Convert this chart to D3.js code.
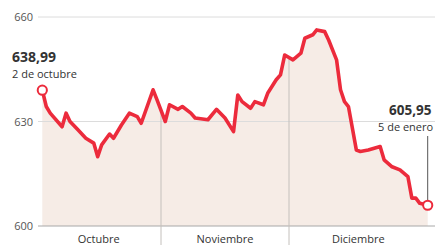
<!DOCTYPE html>
<html><head><meta charset="utf-8">
<script src="https://cdn.jsdelivr.net/npm/d3@7"></script>
<style>body{margin:0;background:#fff;overflow:hidden}svg{display:block}text{font-family:"Open Sans",sans-serif}</style>
</head><body>
<script>
const dates = ["2023-10-02","2023-10-03","2023-10-04","2023-10-07","2023-10-08","2023-10-09","2023-10-11","2023-10-13","2023-10-15","2023-10-16",
"2023-10-17","2023-10-19","2023-10-20","2023-10-22","2023-10-24","2023-10-26","2023-10-27","2023-10-30","2023-10-31","2023-11-02",
"2023-11-03","2023-11-05","2023-11-06","2023-11-08","2023-11-09","2023-11-12","2023-11-14","2023-11-16","2023-11-18","2023-11-19",
"2023-11-20","2023-11-22","2023-11-23","2023-11-25","2023-11-26","2023-11-28","2023-11-29","2023-11-30","2023-12-02","2023-12-04",
"2023-12-05","2023-12-07","2023-12-08","2023-12-10","2023-12-11","2023-12-13","2023-12-14","2023-12-15","2023-12-16","2023-12-18",
"2023-12-19","2023-12-21","2023-12-24","2023-12-25","2023-12-27","2023-12-29","2023-12-31","2024-01-01","2024-01-02","2024-01-03",
"2024-01-05"];
const values = [638.99,634.3,632.4,628.5,632.4,630,627.6,625.2,623.8,619.9,
623.3,626.4,625.2,629,632.4,631.4,629.5,639.1,636.2,630,
634.8,633.5,634.3,632.4,631,630.5,633.5,631,627.1,637.6,
635.7,633.8,635.7,634.8,638.1,642,643.4,649.1,647.7,649.6,
653.9,654.9,656.3,655.8,653.4,647.7,639.1,635.7,634.3,621.8,
621.4,621.8,622.8,619,617,616.1,614.2,608,608,606.5,
605.95];
const yTicks = [600, 630, 660];
const months = ["Octubre","Noviembre","Diciembre"];
const monthBreaks = ["2023-10-02","2023-11-01","2023-12-01","2024-01-05"];
const startLabel = {value:"638,99", date:"2 de octubre"};
const endLabel = {value:"605,95", date:"5 de enero"};

const W = 435, H = 245;
const parse = d3.timeParse("%Y-%m-%d");
const data = dates.map((d,i)=>({date:parse(d), v:values[i]}));
const breaks = monthBreaks.map(parse);

const x = d3.scaleTime().domain(breaks).range([42.3, 161, 289, 427.7]);
const y = d3.scaleLinear().domain([600,660]).range([226,17]);

const svg = d3.select("body").append("svg").attr("width",W).attr("height",H);
const red = "#ec2b3c";

const area = d3.area().x(d=>x(d.date)).y0(y(600)).y1(d=>y(d.v));
const line = d3.line().x(d=>x(d.date)).y(d=>y(d.v));

// fill
svg.append("path").datum(data).attr("d",area).attr("fill","#f6ece6");

// gridlines
svg.append("g").selectAll("line").data(yTicks).join("line")
  .attr("x1",38).attr("x2",W).attr("y1",d=>y(d)).attr("y2",d=>y(d))
  .attr("stroke",d=>d===600?"#a8a8a8":"#dcdcdc").attr("stroke-width",1);

// month separators (clipped to area and below axis)
const defs = svg.append("defs");
const cp = defs.append("clipPath").attr("id","sepclip");
cp.append("path").datum(data).attr("d",area);
cp.append("rect").attr("x",0).attr("y",y(600)).attr("width",W).attr("height",H-y(600));
svg.append("g").attr("clip-path","url(#sepclip)").selectAll("line").data(breaks.slice(1,3)).join("line")
  .attr("x1",d=>x(d)).attr("x2",d=>x(d)).attr("y1",0).attr("y2",H)
  .attr("stroke","#c4c0bc").attr("stroke-width",1);

// y tick labels
svg.append("g").selectAll("text").data(yTicks).join("text")
  .attr("x",33).attr("y",d=>y(d)+4).attr("text-anchor","end")
  .attr("font-size",11).attr("fill","#555").text(d=>d);

// month labels
svg.append("g").selectAll("text").data(months).join("text")
  .attr("x",(d,i)=>(x(breaks[i])+x(breaks[i+1]))/2 + (i===0?-3:0))
  .attr("y",243).attr("text-anchor","middle")
  .attr("font-size",11).attr("fill","#333").text(d=>d);

// line
svg.append("path").datum(data).attr("d",line).attr("fill","none")
  .attr("stroke",red).attr("stroke-width",3.6).attr("stroke-linejoin","round").attr("stroke-linecap","round");

// leader line for end
const last = data[data.length-1], first = data[0];
svg.append("line").attr("x1",x(last.date)).attr("x2",x(last.date))
  .attr("y1",136).attr("y2",y(last.v)-5).attr("stroke","#555").attr("stroke-width",1);

// endpoints
svg.append("g").selectAll("circle").data([first,last]).join("circle")
  .attr("cx",d=>x(d.date)).attr("cy",d=>y(d.v)).attr("r",4.6)
  .attr("fill","#fff").attr("stroke",red).attr("stroke-width",2);

// annotations
svg.append("text").attr("x",12).attr("y",62).attr("font-size",14).attr("font-weight","bold").attr("fill","#333").text(startLabel.value);
svg.append("text").attr("x",12).attr("y",77.5).attr("font-size",11).attr("fill","#333").text(startLabel.date);
svg.append("text").attr("x",389).attr("y",115).attr("font-size",13.5).attr("font-weight","bold").attr("fill","#333").text(endLabel.value);
svg.append("text").attr("x",378).attr("y",131).attr("font-size",11).attr("fill","#333").text(endLabel.date);
</script>
</body></html>
